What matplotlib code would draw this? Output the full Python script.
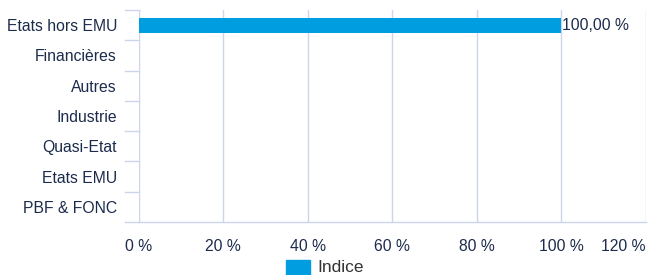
import matplotlib.pyplot as plt
from matplotlib.patches import Rectangle
from matplotlib.lines import Line2D

categories = ['Etats hors EMU', 'Financières', 'Autres', 'Industrie',
              'Quasi-Etat', 'Etats EMU', 'PBF & FONC']
values = [100.0, 0, 0, 0, 0, 0, 0]
x_ticks = [0, 20, 40, 60, 80, 100, 120]
series_name = 'Indice'

BAR = '#009ee0'
GRID = '#ccd6eb'
TEXT = '#1c2b4b'

plt.rcParams['font.family'] = ['Liberation Sans', 'DejaVu Sans']

W, H = 650, 275
fig = plt.figure(figsize=(6.5, 2.75), dpi=100)
left, right, top, bottom = 138.5, 645.6, 10, 222
ax = fig.add_axes([left / W, 1 - bottom / H, (right - left) / W, (bottom - top) / H])

n = len(categories)
ypos = list(range(n))
ax.barh(ypos, values, height=0.5, color=BAR, zorder=3)
ax.set_ylim(n - 0.5, -0.5)
ax.set_xlim(0, 120)

for y, v in zip(ypos, values):
    if v > 0:
        ax.text(v + 0.3, y, '{:.2f} %'.format(v).replace('.', ','), va='center',
                ha='left', fontsize=11.3, color=TEXT, zorder=4)

ax.set_xticks(x_ticks)
ax.set_xticklabels(['%d %%' % t for t in x_ticks])
ax.grid(axis='x', color=GRID, linewidth=1, zorder=0)
ax.set_yticks(ypos)
ax.set_yticklabels(categories)
ax.tick_params(axis='y', length=0, pad=15.5, labelsize=11.3, labelcolor=TEXT)
ax.tick_params(axis='x', length=0, pad=12, labelsize=11.3, labelcolor=TEXT)
# last label is kept inside the chart, like the original
ax.get_xticklabels()[-1].set_horizontalalignment('right')

for s in ['top', 'right', 'left']:
    ax.spines[s].set_visible(False)
ax.spines['bottom'].set_color(GRID)
ax.spines['bottom'].set_linewidth(1)

# category boundary ticks on the left
for b in [i - 0.5 for i in range(n + 1)]:
    ax.add_line(Line2D([-3.15, 0], [b, b], color=GRID, linewidth=1,
                       clip_on=False, zorder=2))

# legend
fig.patches.append(Rectangle((286 / W, 1 - 275 / H), 24 / W, 15 / H,
                             transform=fig.transFigure, color=BAR))
fig.text(317 / W, 1 - 268 / H, series_name, fontsize=12.5, color='#333333',
         va='center', ha='left')

fig.savefig('out.png', dpi=100)
